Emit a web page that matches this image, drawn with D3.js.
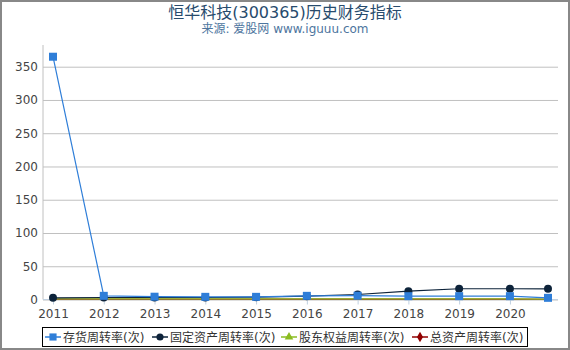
<!DOCTYPE html>
<html><head><meta charset="utf-8">
<script src="https://cdn.jsdelivr.net/npm/d3@7"></script>
<style>
html,body{margin:0;padding:0;background:#fff;}
svg{display:block;font-family:"DejaVu Sans","Noto Sans CJK SC",sans-serif;}
</style></head>
<body>
<svg id="c" width="570" height="350"></svg>
<script>
const titleText = "恒华科技(300365)历史财务指标";
const subtitleText = "来源: 爱股网 www.iguuu.com";
const xPositions = [2011, 2012, 2013, 2014, 2015, 2016, 2017, 2018, 2019, 2020, 2020.75];
const xTickLabels = [2011, 2012, 2013, 2014, 2015, 2016, 2017, 2018, 2019, 2020];
const yTicks = [0, 50, 100, 150, 200, 250, 300, 350];
const seriesNames = ["存货周转率(次)", "固定资产周转率(次)", "股东权益周转率(次)", "总资产周转率(次)"];
const inventoryTurnover = [365, 5.5, 4.2, 4, 4, 5.5, 5.7, 5, 5, 5, 2.5];
const fixedAssetTurnover = [2.5, 3, 3, 3, 3.5, 5, 7.5, 12.5, 16.2, 16.2, 16];
const equityTurnover = [0.8, 0.9, 0.8, 0.8, 0.8, 0.9, 0.9, 0.9, 0.9, 0.8, 0.6];
const totalAssetTurnover = [0.5, 0.6, 0.5, 0.5, 0.5, 0.6, 0.6, 0.6, 0.6, 0.5, 0.4];

const colors = ["#2f7ed8", "#0d233a", "#8bbc21", "#910000"];
const symbols = [d3.symbolSquare, d3.symbolCircle, d3.symbolTriangle, d3.symbolDiamond];
const symSizes = [64, 50, 40, 40];
const showMarkers = [true, true, false, false];
const allSeries = [inventoryTurnover, fixedAssetTurnover, equityTurnover, totalAssetTurnover];

const svg = d3.select("#c");
const x = d3.scaleLinear().domain([2011, 2020.75]).range([53, 548]);
const y = d3.scaleLinear().domain([0, 350]).range([299.5, 66.7]);
const plotLeft = 43, plotRight = 558, plotTop = 45, plotBottom = y(0);

// outer border
svg.append("rect").attr("x", 1).attr("y", 1).attr("width", 568).attr("height", 348)
  .attr("fill", "none").attr("stroke", "#888").attr("stroke-width", 2);

// title
svg.append("text").attr("x", 285).attr("y", 18).attr("text-anchor", "middle")
  .attr("font-size", 16).attr("fill", "#274b6d").text(titleText);
svg.append("text").attr("x", 285).attr("y", 33).attr("text-anchor", "middle")
  .attr("font-size", 12).attr("fill", "#4d759e").text(subtitleText);

// gridlines
const yAxis = d3.axisLeft(y).tickValues(yTicks).tickSize(-(plotRight - plotLeft)).tickPadding(5);
const gy = svg.append("g").attr("transform", `translate(${plotLeft},0)`).call(yAxis);
gy.select(".domain").remove();
gy.selectAll(".tick line").attr("stroke", "#c0c0c0");
gy.selectAll(".tick text").attr("font-size", 12).attr("fill", "#444")
  .attr("font-family", "DejaVu Sans").attr("x", -5);
svg.append("line").attr("x1", plotLeft).attr("x2", plotLeft).attr("y1", plotTop).attr("y2", plotBottom)
  .attr("stroke", "#c0c0c0");

// x axis
const xAxis = d3.axisBottom(x).tickValues(xTickLabels).tickFormat(d3.format("d")).tickSize(5).tickPadding(5);
const gx = svg.append("g").attr("transform", `translate(0,${plotBottom})`).call(xAxis);
gx.select(".domain").remove();
gx.selectAll(".tick line").attr("stroke", "#c0d0e0");
gx.selectAll(".tick text").attr("font-size", 12).attr("fill", "#444").attr("font-family", "DejaVu Sans");
svg.append("line").attr("x1", plotLeft).attr("x2", plotRight).attr("y1", plotBottom).attr("y2", plotBottom)
  .attr("stroke", "#c0d0e0");

// series: draw order red, green, navy, blue (blue on top)
const order = [3, 2, 1, 0];
const line = d3.line().x((d, i) => x(xPositions[i])).y(d => y(d));
order.forEach(si => {
  const g = svg.append("g");
  g.append("path").datum(allSeries[si]).attr("d", line).attr("fill", "none")
    .attr("stroke", colors[si]).attr("stroke-width", 1.2);
  if (showMarkers[si]) {
    g.selectAll("path.m").data(allSeries[si]).enter().append("path").attr("class", "m")
      .attr("transform", (d, i) => `translate(${x(xPositions[i])},${y(d)})`)
      .attr("d", d3.symbol().type(symbols[si]).size(symSizes[si]))
      .attr("fill", colors[si]);
  }
});

// legend
const lg = svg.append("g");
lg.append("rect").attr("x", 42.5).attr("y", 327.5).attr("width", 485).attr("height", 19)
  .attr("fill", "#fff").attr("stroke", "#000").attr("stroke-width", 1);
const legendX = [45, 152, 281, 412];
seriesNames.forEach((name, i) => {
  const gx0 = legendX[i];
  lg.append("line").attr("x1", gx0).attr("x2", gx0 + 16).attr("y1", 337).attr("y2", 337)
    .attr("stroke", colors[i]).attr("stroke-width", 1.5);
  lg.append("path").attr("transform", `translate(${gx0 + 8},337)`)
    .attr("d", d3.symbol().type(symbols[i]).size(symSizes[i] * 0.8)).attr("fill", colors[i]);
  lg.append("text").attr("x", gx0 + 18).attr("y", 341.5).attr("font-size", 12)
    .attr("fill", "#333").text(name);
});
</script>
</body></html>
